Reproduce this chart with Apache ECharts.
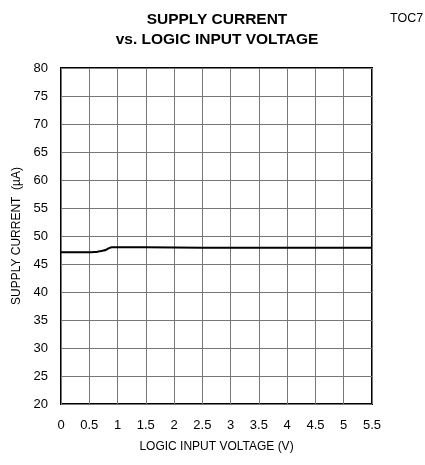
<!DOCTYPE html>
<html><head><meta charset="utf-8">
<script src="https://cdn.jsdelivr.net/npm/echarts@6/dist/echarts.min.js"></script>
<style>html,body{margin:0;padding:0;background:#fff}#c{width:425px;height:465px}</style>
</head><body><div id="c"></div>
<script>
const voltage = [0, 0.3, 0.5, 0.6, 0.65, 0.7, 0.75, 0.8, 0.85, 0.9, 1.0, 2.0, 3.0, 4.0, 5.0, 5.5];
const current = [47.1, 47.1, 47.1, 47.15, 47.2, 47.3, 47.4, 47.55, 47.85, 48.0, 48.0, 47.95, 47.9, 47.9, 47.9, 47.9];
const xTicks = [0, 0.5, 1, 1.5, 2, 2.5, 3, 3.5, 4, 4.5, 5, 5.5];
const yTicks = [20, 25, 30, 35, 40, 45, 50, 55, 60, 65, 70, 75, 80];
const font = '"Liberation Sans", Arial, sans-serif';
const chart = echarts.init(document.getElementById('c'), null, {renderer:'canvas'});
chart.setOption({
  animation: false,
  title: [
    {text: 'SUPPLY CURRENT\nvs. LOGIC INPUT VOLTAGE', left: 212, top: 5, textAlign: 'center',
     textStyle: {fontFamily: font, fontSize: 15.5, fontWeight: 'bold', color: '#000', lineHeight: 20}},
    {text: 'TOC7', left: 385, top: 7, textStyle: {fontFamily: font, fontSize: 12.5, fontWeight: 'normal', color: '#000'}}
  ],
  grid: {left: 61, right: 53, top: 68, bottom: 61, show: true, borderColor: '#000', borderWidth: 2},
  xAxis: {
    type: 'value', min: xTicks[0], max: xTicks[xTicks.length-1], interval: 0.5,
    name: 'LOGIC INPUT VOLTAGE (V)', nameLocation: 'middle', nameGap: 37,
    nameTextStyle: {fontFamily: font, fontSize: 12, color: '#000'},
    axisLine: {show: false}, axisTick: {show: false},
    axisLabel: {fontFamily: font, fontSize: 13, color: '#000', margin: 15},
    splitLine: {lineStyle: {color: '#777', width: 1}}
  },
  yAxis: {
    type: 'value', min: yTicks[0], max: yTicks[yTicks.length-1], interval: 5,
    name: 'SUPPLY CURRENT  (\u00b5A)', nameLocation: 'middle', nameGap: 23,
    nameTextStyle: {fontFamily: font, fontSize: 12, color: '#000'},
    axisLine: {show: false}, axisTick: {show: false},
    axisLabel: {fontFamily: font, fontSize: 13, color: '#000', margin: 13},
    splitLine: {lineStyle: {color: '#777', width: 1}}
  },
  series: [{
    type: 'line', data: voltage.map((v,i)=>[v,current[i]]), smooth: 0.3, showSymbol: false,
    lineStyle: {color: '#000', width: 2}
  }]
});
</script></body></html>
